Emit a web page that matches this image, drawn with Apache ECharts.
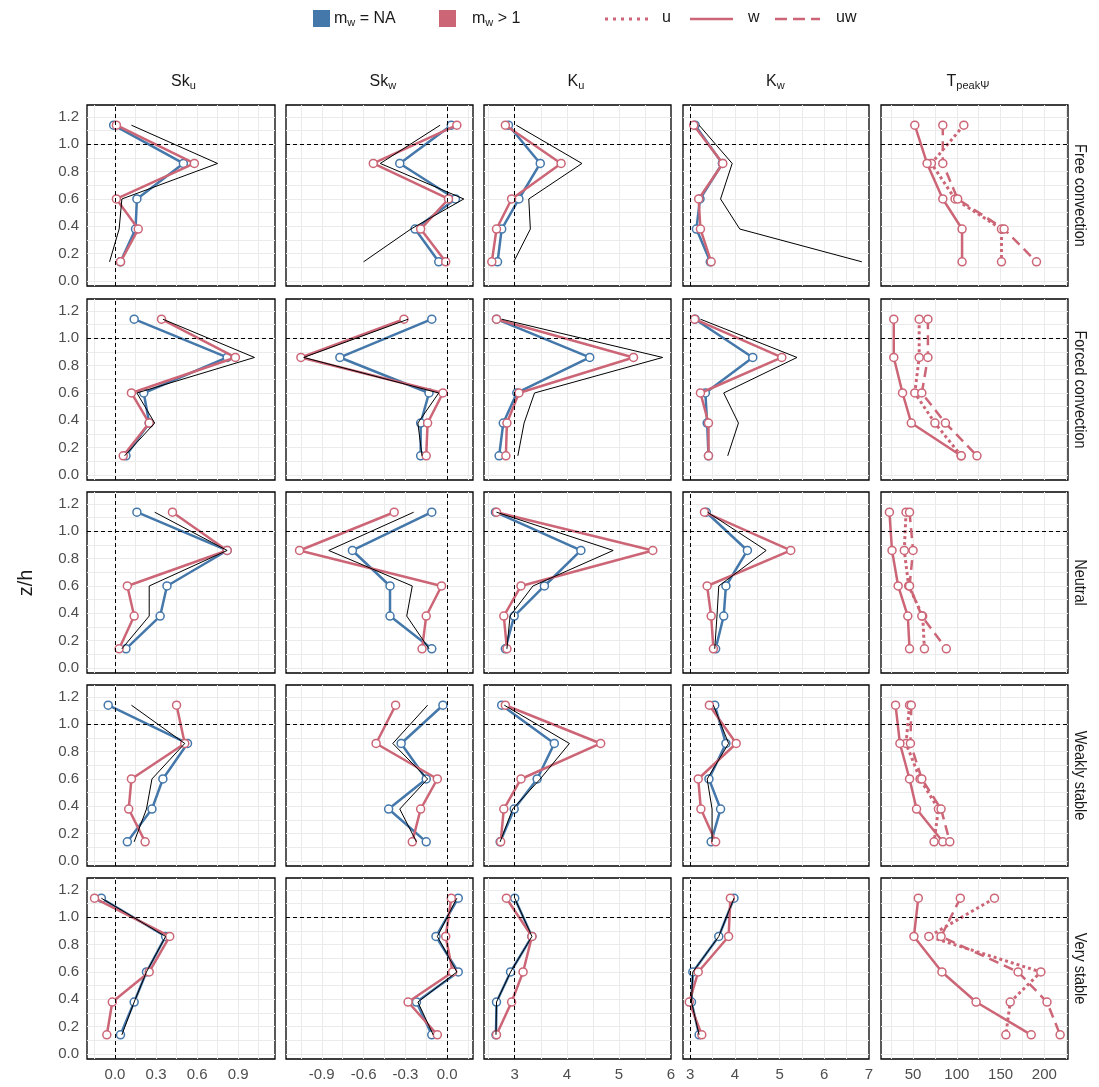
<!DOCTYPE html>
<html><head><meta charset="utf-8">
<script src="https://cdn.jsdelivr.net/npm/echarts@6/dist/echarts.min.js"></script>
<style>html,body{margin:0;padding:0;background:#fff}#c{width:1099px;height:1087px}</style>
</head><body><div id="c"></div>
<script>
const zLevels = [1.14, 0.86, 0.6, 0.38, 0.14];
const regimes = ['Free convection','Forced convection','Neutral','Weakly stable','Very stable'];
const Sku_NA = [[-0.01,0.50,0.16,0.15,0.04],[0.14,0.82,0.21,0.25,0.08],[0.16,0.82,0.38,0.33,0.08],[-0.05,0.53,0.35,0.27,0.09],[-0.10,0.37,0.23,0.14,0.04]];
const Sku_M1 = [[0.01,0.58,0.01,0.17,0.04],[0.34,0.88,0.12,0.25,0.06],[0.42,0.82,0.09,0.14,0.03],[0.45,0.51,0.12,0.10,0.22],[-0.15,0.40,0.25,-0.02,-0.06]];
const Sku_Ref = [[0.12,0.75,0.05,0.03,-0.04],[0.35,1.02,0.16,0.29,0.07],[0.29,0.82,0.25,0.25,0.05],[0.12,0.51,0.27,0.23,0.14],[-0.10,0.37,0.23,0.14,0.05]];
const Skw_NA = [[0.03,-0.34,0.06,-0.23,-0.06],[-0.11,-0.77,-0.13,-0.19,-0.19],[-0.11,-0.68,-0.41,-0.41,-0.11],[-0.03,-0.33,-0.15,-0.42,-0.15],[0.08,-0.08,0.08,-0.22,-0.11]];
const Skw_M1 = [[0.07,-0.53,0.01,-0.19,-0.01],[-0.31,-1.05,-0.03,-0.14,-0.15],[-0.38,-1.06,-0.04,-0.15,-0.18],[-0.37,-0.51,-0.07,-0.19,-0.25],[0.03,-0.01,0.04,-0.28,-0.07]];
const Skw_Ref = [[-0.05,-0.48,0.12,-0.26,-0.60],[-0.28,-1.03,-0.06,-0.21,-0.18],[-0.24,-0.85,-0.25,-0.29,-0.13],[-0.14,-0.39,-0.14,-0.34,-0.22],[0.07,-0.07,0.07,-0.21,-0.10]];
const Ku_NA = [[2.88,3.49,3.08,2.75,2.67],[2.65,4.44,3.04,2.78,2.70],[2.63,4.27,3.57,2.99,2.82],[2.75,3.76,3.43,2.99,2.72],[3.00,3.33,2.92,2.65,2.64]];
const Ku_M1 = [[2.82,3.89,2.94,2.65,2.56],[2.65,5.28,3.08,2.85,2.83],[2.65,5.65,3.12,2.79,2.85],[2.82,4.65,3.12,2.79,2.73],[2.84,3.33,3.16,2.94,2.65]];
const Ku_Ref = [[3.03,4.29,3.27,3.30,2.98],[2.75,5.84,3.38,3.18,3.06],[2.65,4.89,3.35,2.91,2.85],[2.80,4.05,3.49,2.96,2.72],[3.00,3.33,2.92,2.65,2.64]];
const Kw_NA = [[3.11,3.72,3.22,3.14,3.45],[3.11,4.40,3.34,3.38,3.41],[3.36,4.28,3.80,3.75,3.57],[3.55,3.80,3.42,3.68,3.47],[3.98,3.64,3.06,3.03,3.20]];
const Kw_M1 = [[3.08,3.73,3.19,3.23,3.47],[3.10,5.05,3.23,3.41,3.41],[3.32,5.25,3.38,3.47,3.52],[3.43,4.03,3.18,3.24,3.57],[3.90,3.86,3.18,2.98,3.26]];
const Kw_Ref = [[3.20,3.94,3.68,4.11,6.84],[3.23,5.39,3.75,4.08,3.84],[3.39,4.70,3.64,3.60,3.55],[3.52,3.86,3.38,3.49,3.49],[3.98,3.64,3.06,3.03,3.20]];
const T_u = [[108,71,98,151,151],[57,57,52,75,105],[42,40,45,61,63],[46,42,58,79,74],[143,68,196,161,156]];
const T_w = [[52,66,84,106,106],[28,28,38,48,105],[23,26,33,44,46],[30,35,46,54,84],[56,51,83,122,185]];
const T_uw = [[84,84,101,154,191],[67,67,60,87,123],[46,50,46,60,88],[48,47,60,82,92],[104,82,170,203,218]];

const xRanges = [[-0.205,1.17],[-1.157,0.186],[2.41,6.0],[2.84,7.0],[13.4,227]];
const xMajor = [[0,0.3,0.6,0.9],[-0.9,-0.6,-0.3,0],[3,4,5,6],[3,4,5,6,7],[50,100,150,200]];
const xGrid = [[-0.15,0,0.15,0.3,0.45,0.6,0.75,0.9,1.05],[-1.05,-0.9,-0.75,-0.6,-0.45,-0.3,-0.15,0,0.15],[2.5,3,3.5,4,4.5,5,5.5],[3,3.5,4,4.5,5,5.5,6,6.5],[25,50,75,100,125,150,175,200,225]];
const xFmt = [v=>v.toFixed(1),v=>v.toFixed(1),v=>String(v),v=>String(v),v=>String(v)];
const vLine = [0,0,3,3,null];
const yMajor = [0,0.2,0.4,0.6,0.8,1.0,1.2];
const yGrid = [0,0.1,0.2,0.3,0.4,0.5,0.6,0.7,0.8,0.9,1.0,1.1,1.2];

const BLUE='#4477AA', RED='#CC6677';
const colL=[87,286,484,683,881], colW=[188,187,187,186,187];
const rowT=[105,299,492,685,878], rowH=181;
const blocks=[[Sku_NA,Sku_M1,Sku_Ref],[Skw_NA,Skw_M1,Skw_Ref],[Ku_NA,Ku_M1,Ku_Ref],[Kw_NA,Kw_M1,Kw_Ref]];

const grids=[],xAxes=[],yAxes=[],series=[];
const pts=arr=>arr.map((v,i)=>[v,zLevels[i]]);
const sym={symbol:'circle',symbolSize:8,showSymbol:true};
for(let r=0;r<5;r++)for(let c=0;c<5;c++){
  const g=r*5+c;
  grids.push({left:colL[c],top:rowT[r],width:colW[c],height:rowH,show:true,borderColor:'#000',borderWidth:1.3,backgroundColor:'transparent'});
  xAxes.push({gridIndex:g,type:'value',min:xRanges[c][0],max:xRanges[c][1],
    axisLine:{show:false},axisTick:{show:false,customValues:xGrid[c]},
    axisLabel:{show:r===4,customValues:xMajor[c],formatter:xFmt[c],color:'#4d4d4d',fontSize:15,margin:8,fontFamily:'Liberation Sans, sans-serif'},
    splitLine:{show:true,lineStyle:{color:'#ebebeb',width:1}}});
  yAxes.push({gridIndex:g,type:'value',min:-0.037,max:1.288,
    axisLine:{show:false},axisTick:{show:false,customValues:yGrid},
    axisLabel:{show:c===0,customValues:yMajor,formatter:v=>v.toFixed(1),color:'#4d4d4d',fontSize:15,margin:8,fontFamily:'Liberation Sans, sans-serif'},
    splitLine:{show:true,lineStyle:{color:'#ebebeb',width:1}}});
  const mlData=[{yAxis:1.0}];
  if(vLine[c]!==null) mlData.push({xAxis:vLine[c]});
  const markLine={silent:true,symbol:'none',label:{show:false},animation:false,lineStyle:{color:'#000',type:[4,3],width:1},data:mlData};
  if(c<4){
    const [na,m1,ref]=blocks[c];
    series.push({type:'line',xAxisIndex:g,yAxisIndex:g,data:pts(na[r]),...sym,lineStyle:{color:BLUE,width:2.5},itemStyle:{color:'#fff',borderColor:BLUE,borderWidth:1.5},z:3,markLine});
    series.push({type:'line',xAxisIndex:g,yAxisIndex:g,data:pts(m1[r]),...sym,lineStyle:{color:RED,width:2.5},itemStyle:{color:'#fff',borderColor:RED,borderWidth:1.5},z:4});
    series.push({type:'line',xAxisIndex:g,yAxisIndex:g,data:pts(ref[r]),showSymbol:false,symbol:'none',lineStyle:{color:'#000',width:1},z:5});
  } else {
    const defs=[[T_u,'dotted',3],[T_w,'solid',2.5],[T_uw,[10,6],2.5]];
    defs.forEach(([arr,t,w],k)=>series.push({type:'line',xAxisIndex:g,yAxisIndex:g,data:pts(arr[r]),...sym,
      lineStyle:{color:RED,width:w,type:t},itemStyle:{color:'#fff',borderColor:RED,borderWidth:1.5},z:3+k,markLine:k===0?markLine:undefined}));
  }
}
const sub={fontSize:11,verticalAlign:'bottom',padding:[8,0,0,0],fontFamily:'Liberation Sans, sans-serif',fill:'#1a1a1a'};
const main={fontSize:16,fontFamily:'Liberation Sans, sans-serif',fill:'#1a1a1a'};
const heads=[['Sk','u'],['Sk','w'],['K','u'],['K','w'],['T','peakΨ']];
const graphic=[];
heads.forEach((h,c)=>graphic.push({type:'text',left:colL[c]+colW[c]/2-(h[1].length>1?28:10),top:74,
  style:{text:`{a|${h[0]}}{b|${h[1]}}`,rich:{a:main,b:sub}}}));
regimes.forEach((t,r)=>graphic.push({type:'text',x:1080,y:rowT[r]+rowH/2,rotation:-Math.PI/2,scaleX:0.85,
  style:{text:t,fontSize:17,fill:'#1a1a1a',align:'center',verticalAlign:'middle',fontFamily:'Liberation Sans Narrow, Liberation Sans, sans-serif'}}));
graphic.push({type:'text',x:26,y:583,rotation:Math.PI/2,style:{text:'z/h',fontSize:20,fill:'#1a1a1a',align:'center',verticalAlign:'middle',fontFamily:'Liberation Sans, sans-serif'}});
graphic.push({type:'rect',shape:{x:313,y:10,width:17,height:17},style:{fill:BLUE}});
graphic.push({type:'text',x:334,y:9,style:{text:'{a|m}{b|w}{a| = NA}',rich:{a:main,b:sub}}});
graphic.push({type:'rect',shape:{x:439,y:10,width:17,height:17},style:{fill:RED}});
graphic.push({type:'text',x:472,y:9,style:{text:'{a|m}{b|w}{a| > 1}',rich:{a:main,b:sub}}});
graphic.push({type:'line',shape:{x1:605,y1:19,x2:648,y2:19},style:{stroke:RED,lineWidth:3,lineDash:[3,5]}});
graphic.push({type:'text',x:662,y:10,style:{text:'u',...main}});
graphic.push({type:'line',shape:{x1:690,y1:19,x2:733,y2:19},style:{stroke:RED,lineWidth:2.5}});
graphic.push({type:'text',x:748,y:10,style:{text:'w',...main}});
graphic.push({type:'line',shape:{x1:775,y1:19,x2:820,y2:19},style:{stroke:RED,lineWidth:2.5,lineDash:[12,6]}});
graphic.push({type:'text',x:836,y:10,style:{text:'uw',...main}});

const chart=echarts.init(document.getElementById('c'));
chart.setOption({animation:false,grid:grids,xAxis:xAxes,yAxis:yAxes,series,graphic});
</script></body></html>
